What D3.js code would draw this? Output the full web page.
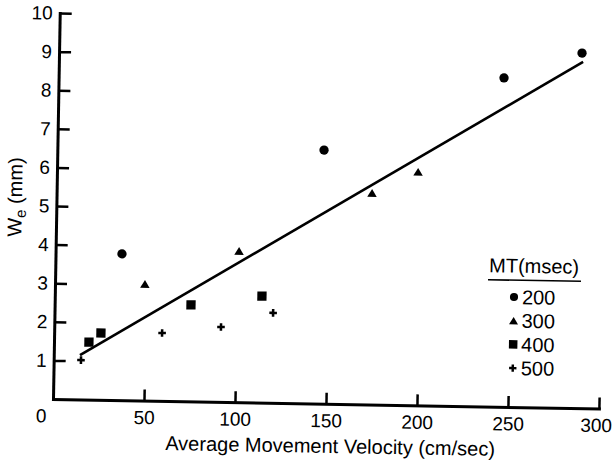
<!DOCTYPE html>
<html>
<head>
<meta charset="utf-8">
<script src="https://cdn.jsdelivr.net/npm/d3@7"></script>
<style>
    body { margin: 0; background: #fff; }
    svg text { font-family: "Liberation Sans", Arial, Helvetica, sans-serif; fill: #000; }
</style>
</head>
<body>
<div id="chart"></div>
<script>
// MT groups (msec) and the marker used for each
var mtLabels = ["200", "300", "400", "500"];
var mtShapes = ["circle", "triangle", "square", "plus"];

// average movement velocity (cm/sec)
var vel200 = [36.5, 146.5, 244.7, 287.3];
var vel300 = [49.4, 100.8, 173.3, 198.4];
var vel400 = [19.2, 25.7, 74.9, 113.8];
var vel500 = [15.0, 59.3, 91.6, 120.1];

// effective target width We (mm)
var we200 = [3.79, 6.57, 8.52, 9.20];
var we300 = [3.02, 3.92, 5.48, 6.05];
var we400 = [1.49, 1.73, 2.50, 2.76];
var we500 = [1.02, 1.76, 1.94, 2.33];

// regression line ends
var fitVel = [14.4, 288];
var fitWe = [1.15, 8.97];

var xTicks = [0, 50, 100, 150, 200, 250, 300];
var yTicks = [1, 2, 3, 4, 5, 6, 7, 8, 9, 10];

var velData = [vel200, vel300, vel400, vel500];
var weData = [we200, we300, we400, we500];

var width = 614;
var height = 462;
var ink = "#000";

// the scanned page sits about 1 degree off, so the whole plot is turned
var origin = [53, 399];
var angle = 1;
var rad = angle * Math.PI / 180;

// screen pixel -> local (rotated) frame, only used for text/legend placement
function loc(sx, sy) {
    var dx = sx - origin[0], dy = sy - origin[1];
    return [dx * Math.cos(rad) + dy * Math.sin(rad), -dx * Math.sin(rad) + dy * Math.cos(rad)];
}

var svg = d3.select("#chart")
    .append("svg")
    .attr("width", width)
    .attr("height", height)
    .style("background", "#fff");

var g = svg.append("g")
    .attr("transform", "translate(" + origin[0] + "," + origin[1] + ") rotate(" + angle + ")");

var x = d3.scaleLinear().domain([0, 300]).range([0, 546]);
var y = d3.scaleLinear().domain([0, 10]).range([0, -386]);

//x axis
var xAxis = g.append("g")
    .call(d3.axisBottom(x).tickValues(xTicks).tickSizeInner(-11).tickSizeOuter(0).tickPadding(10))
    .attr("font-size", 19);

xAxis.select(".domain").attr("stroke", ink).attr("stroke-width", 3).attr("stroke-linecap", "square");
xAxis.selectAll(".tick line").attr("stroke", ink).attr("stroke-width", 2.5);
// zero sits left of the corner and has no tick mark
var zeroTick = xAxis.selectAll(".tick").filter(function (d) { return d === 0; });
zeroTick.select("line").remove();
zeroTick.select("text").attr("x", -12);
// last label is nudged in a little from the edge
xAxis.selectAll(".tick").filter(function (d) { return d === 300; }).select("text").attr("x", -3);

//y axis
var yAxis = g.append("g")
    .call(d3.axisLeft(y).tickValues(yTicks).tickSizeInner(-12).tickSizeOuter(0).tickPadding(7))
    .attr("font-size", 19);

yAxis.select(".domain").attr("stroke", ink).attr("stroke-width", 3).attr("stroke-linecap", "square");
yAxis.selectAll(".tick line").attr("stroke", ink).attr("stroke-width", 2.5);

// regression line
var line = d3.line()
    .x(function (d) { return x(d[0]); })
    .y(function (d) { return y(d[1]); });

g.append("path")
    .datum(d3.zip(fitVel, fitWe))
    .attr("d", line)
    .attr("fill", "none")
    .attr("stroke", ink)
    .attr("stroke-width", 2.6);

function markerPath(shape, small) {
    if (shape === "circle") return d3.symbol().type(d3.symbolCircle).size(small ? 52 : 68)();
    if (shape === "square") return d3.symbol().type(d3.symbolSquare).size(small ? 72 : 86)();
    if (shape === "plus") return d3.symbol().type(d3.symbolCross).size(small ? 30 : 32)();
    // triangle centred on its box rather than its centroid
    var s = small ? 9 : 9.5, h = s * 0.82;
    return "M0," + (-h / 2) + "L" + (s / 2) + "," + (h / 2) + "L" + (-s / 2) + "," + (h / 2) + "Z";
}

// points
for (var i = 0; i < mtLabels.length; i++) {
    var pts = d3.zip(velData[i], weData[i]);
    g.append("g")
        .attr("class", "mt-" + mtLabels[i])
        .selectAll("path")
        .data(pts)
        .enter()
        .append("path")
        .attr("transform", function (d) { return "translate(" + x(d[0]) + "," + y(d[1]) + ")"; })
        .attr("d", markerPath(mtShapes[i], false))
        .attr("fill", ink);
}

// axis titles
var xt = loc(330, 453);
g.append("text")
    .attr("x", xt[0])
    .attr("y", xt[1])
    .attr("text-anchor", "middle")
    .attr("font-size", 20)
    .text("Average Movement Velocity (cm/sec)");

var yt = loc(15, 197);
var yTitle = g.append("text")
    .attr("transform", "translate(" + yt[0] + "," + yt[1] + ") rotate(-90)")
    .attr("text-anchor", "middle")
    .attr("dy", "0.35em")
    .attr("font-size", 20);
yTitle.append("tspan").text("W");
yTitle.append("tspan").attr("font-size", 15).attr("dy", 4).text("e");
yTitle.append("tspan").attr("dy", -4).text(" (mm)");

// legend
var lh = loc(534, 273);
var legend = g.append("g").attr("class", "legend");

legend.append("text")
    .attr("x", lh[0])
    .attr("y", lh[1])
    .attr("text-anchor", "middle")
    .attr("font-size", 20)
    .text("MT(msec)");

var ul = loc(488, 279);
legend.append("line")
    .attr("x1", ul[0])
    .attr("x2", ul[0] + 93)
    .attr("y1", ul[1] + 0.7)
    .attr("y2", ul[1] + 0.7)
    .attr("stroke", ink)
    .attr("stroke-width", 1.6);

var l0 = loc(514, 297);
var keys = legend.selectAll(".key")
    .data(mtLabels)
    .enter()
    .append("g")
    .attr("class", "key")
    .attr("transform", function (d, i) { return "translate(" + l0[0] + "," + (l0[1] + i * 23.7) + ")"; });

keys.append("path")
    .attr("d", function (d, i) { return markerPath(mtShapes[i], true); })
    .attr("fill", ink);

keys.append("text")
    .attr("x", 8)
    .attr("y", 7)
    .attr("font-size", 20)
    .text(function (d) { return d; });
</script>
</body>
</html>
